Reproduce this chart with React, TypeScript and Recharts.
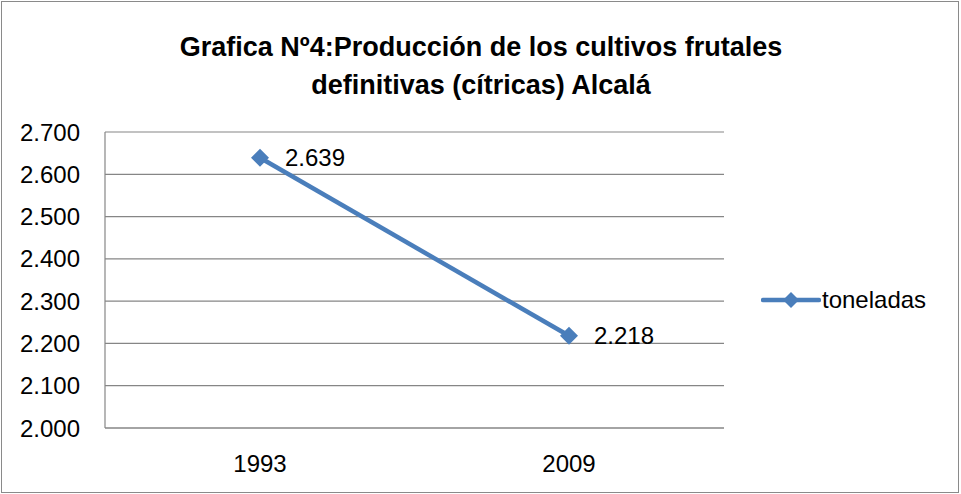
// Line chart of citrus production (toneladas) in Alcalá, 1993 vs 2009
import { CartesianGrid, LabelList, Legend, Line, LineChart, XAxis, YAxis } from "recharts";

const years = ["1993", "2009"];
const toneladas = [2639, 2218];
const yTicks = [2000, 2100, 2200, 2300, 2400, 2500, 2600, 2700];
const titleLines = ["Grafica Nº4:Producción de los cultivos frutales", "definitivas (cítricas) Alcalá"];
const seriesName = "toneladas";

const data = years.map((y, i) => ({ year: y, toneladas: toneladas[i] }));

const FONT = '"Liberation Sans", Arial, sans-serif';
const BLUE = "#4a7ebb";
const GRID = "#868686";

// thousands with a dot, like the spanish excel export
const fmt = (v: number | string) => String(v).replace(/\B(?=(\d{3})+(?!\d))/g, ".");

interface DotProps {
  cx?: number;
  cy?: number;
}

function Diamond({ cx, cy }: DotProps) {
  if (cx == null || cy == null) return null;
  const r = 9;
  return (
    <polygon
      points={`${cx},${cy - r} ${cx + r},${cy} ${cx},${cy + r} ${cx - r},${cy}`}
      fill={BLUE}
    />
  );
}

function LegendBox() {
  return (
    <div style={{ display: "flex", alignItems: "center", fontFamily: FONT, fontSize: 24, color: "#000" }}>
      <svg width={60} height={20} style={{ display: "block" }}>
        <line x1={2} y1={10} x2={58} y2={10} stroke={BLUE} strokeWidth={4.5} strokeLinecap="round" />
        <polygon points="30,2 38,10 30,18 22,10" fill={BLUE} />
      </svg>
      <span style={{ marginLeft: 1 }}>{seriesName}</span>
    </div>
  );
}

export default function App() {
  return (
    <div style={{ position: "absolute", left: 0, top: 0, width: 961, height: 494, background: "#fff" }}>
      <LineChart
        width={961}
        height={494}
        data={data}
        margin={{ top: 132, right: 237, left: 0, bottom: 0 }}
      >
        <CartesianGrid vertical={false} stroke={GRID} strokeWidth={1.2} />
        <XAxis
          dataKey="year"
          height={66}
          padding={{ left: 155, right: 155 }}
          axisLine={{ stroke: GRID, strokeWidth: 1.2 }}
          tickLine={false}
          tickSize={6}
          tickMargin={21}
          tick={{ fontSize: 24, fill: "#000", fontFamily: FONT }}
        />
        <YAxis
          width={105}
          domain={[2000, 2700]}
          ticks={yTicks}
          interval={0}
          tickFormatter={fmt}
          axisLine={{ stroke: GRID, strokeWidth: 1.2 }}
          tickLine={false}
          tickSize={6}
          tickMargin={19}
          tick={{ fontSize: 24, fill: "#000", fontFamily: FONT }}
        />
        {/* horizontal + middle so the legend reserves no room in the plot */}
        <Legend
          layout="horizontal"
          verticalAlign="middle"
          align="center"
          content={() => <LegendBox />}
          wrapperStyle={{ position: "absolute", left: 761, top: 286, width: 200 }}
        />
        <Line
          type="linear"
          dataKey="toneladas"
          name={seriesName}
          stroke={BLUE}
          strokeWidth={4.5}
          dot={<Diamond />}
          activeDot={false}
          isAnimationActive={false}
        >
          <LabelList
            dataKey="toneladas"
            position="right"
            offset={25}
            formatter={fmt}
            style={{ fontSize: 24, fill: "#000", fontFamily: FONT }}
          />
        </Line>
      </LineChart>
      <svg
        width={961}
        height={120}
        style={{ position: "absolute", left: 0, top: 0, pointerEvents: "none" }}
      >
        {titleLines.map((t, i) => (
          <text
            key={t}
            x={481}
            y={56 + i * 38}
            textAnchor="middle"
            fontFamily={FONT}
            fontWeight="bold"
            fontSize={27}
            fill="#000"
          >
            {t}
          </text>
        ))}
      </svg>
      <div
        style={{
          position: "absolute",
          left: 1,
          top: 1,
          width: 958,
          height: 492,
          boxSizing: "border-box",
          border: "1.5px solid #8a8a8a",
          pointerEvents: "none",
        }}
      />
    </div>
  );
}
